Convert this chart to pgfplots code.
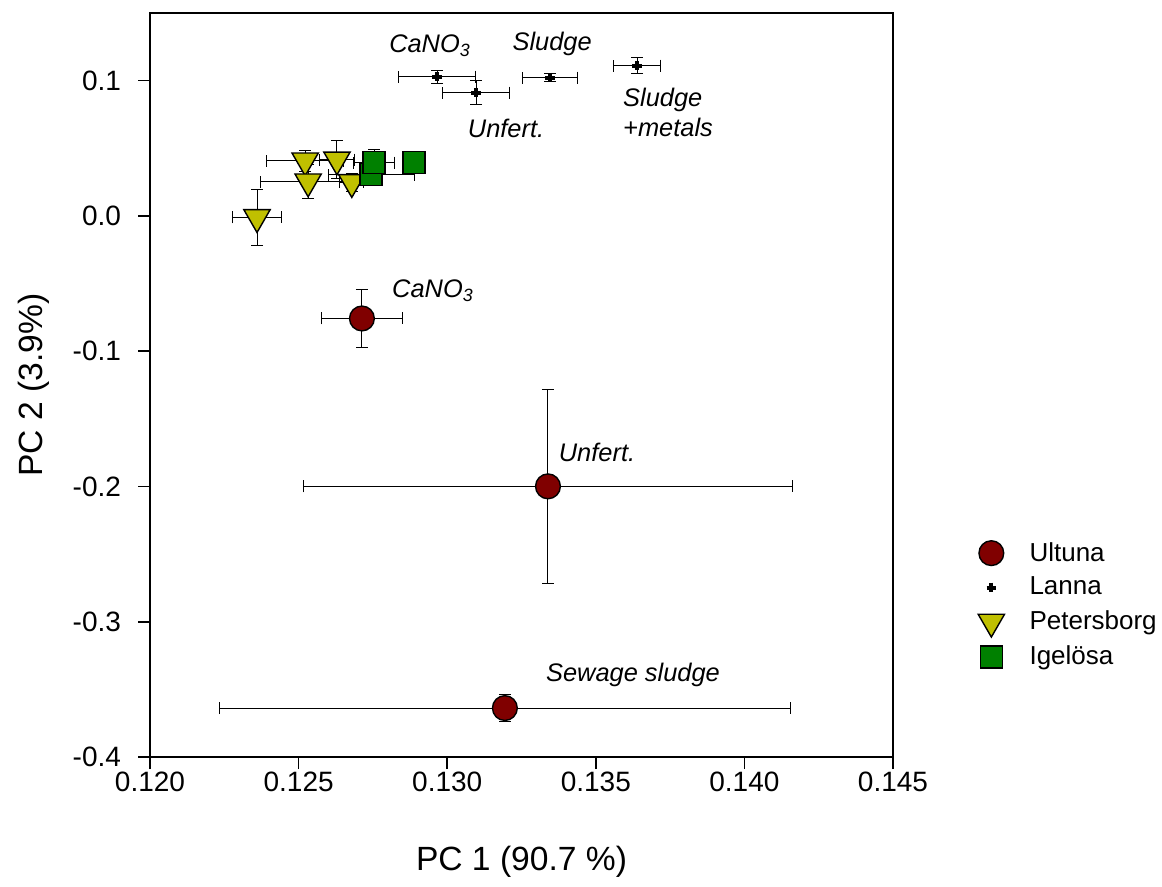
\documentclass[border=0pt]{standalone}
\usepackage{pgfplots}
\pgfplotsset{compat=1.18}
\usepackage{fontspec}
\setmainfont{Liberation Sans}

\definecolor{ultuna}{RGB}{128,0,0}
\definecolor{peters}{RGB}{192,192,0}
\definecolor{igel}{RGB}{0,128,0}

% x y ex ey
\pgfplotstableread{
x y ex ey
0.12713 -0.0758 0.00137 0.0214
0.13339 -0.1999 0.00824 0.0716
0.13194 -0.3638 0.0096 0.0100
}\ultunadata
\pgfplotstableread{
x y ex ey
0.12966 0.1030 0.0013 0.0048
0.13097 0.0911 0.00114 0.0089
0.13346 0.1022 0.00094 0.0030
0.13639 0.1111 0.00079 0.0060
}\lannadata
\pgfplotstableread{
x y ex ey
0.12360 -0.0010 0.00084 0.0207
0.12522 0.0409 0.0013 0.0078
0.12629 0.0416 0.0006 0.0140
0.12532 0.0254 0.0016 0.0125
0.12679 0.0249 0.0004 0.0066
}\petersdata
\pgfplotstableread{
x y ex ey
0.12744 0.0306 0.00145 0.0030
0.12754 0.0394 0.0007 0.0096
0.12888 0.0394 0.0004 0.0070
}\igeldata

\begin{document}
\begin{tikzpicture}
\begin{axis}[
    scale only axis,
    width=371.5pt, height=372pt,
    xmin=0.120, xmax=0.145,
    ymin=-0.4, ymax=0.15,
    xtick={0.120,0.125,0.130,0.135,0.140,0.145},
    ytick={-0.4,-0.3,-0.2,-0.1,0.0,0.1},
    xticklabel style={yshift=2pt,/pgf/number format/.cd,fixed,fixed zerofill,precision=3,assume math mode=true},
    yticklabel style={xshift=-5pt,/pgf/number format/.cd,fixed,fixed zerofill,precision=1,assume math mode=true},
    scaled x ticks=false, scaled y ticks=false,
    tick align=outside, major tick length=6pt,
    xtick pos=bottom, ytick pos=left,
    tick style={black, line width=0.8pt},
    axis line style={line width=0.8pt},
    ticklabel style={font=\fontsize{14}{16}\selectfont},
    xlabel={PC 1 (90.7 \%)}, ylabel={PC 2 (3.9\%)},
    label style={font=\fontsize{16.8}{19}\selectfont},
    xlabel style={yshift=-20pt},
    ylabel style={yshift=5pt},
    clip=false,
    legend style={draw=none, fill=none, at={(1.106,0.30)}, anchor=north west,
        font=\fontsize{13}{15}\selectfont, row sep=2.5pt, column sep=10.5pt,
        cells={anchor=west}},
    legend cell align=left,
    error bars/error bar style={black, line width=0.5pt},
    error bars/error mark options={rotate=90, black, line width=0.5pt, mark size=3pt},
]
\addplot[only marks, mark=*, mark size=6.2pt, mark options={fill=ultuna, draw=black, line width=0.7pt},
    error bars/.cd, x dir=both, y dir=both, x explicit, y explicit]
    table[x=x, y=y, x error=ex, y error=ey] {\ultunadata};
\addlegendentry{Ultuna}
\addplot[only marks, mark=+, mark size=2.4pt, mark options={black, line width=2pt},
    error bars/.cd, x dir=both, y dir=both, x explicit, y explicit]
    table[x=x, y=y, x error=ex, y error=ey] {\lannadata};
\addlegendentry{Lanna}
\addplot[only marks, mark=triangle*, mark size=7.6pt, mark options={rotate=180, fill=peters, draw=black, line width=0.7pt},
    error bars/.cd, x dir=both, y dir=both, x explicit, y explicit]
    table[x=x, y=y, x error=ex, y error=ey] {\petersdata};
\addlegendentry{Petersborg}
\addplot[only marks, mark=square*, mark size=5.5pt, mark options={fill=igel, draw=black, line width=0.7pt},
    error bars/.cd, x dir=both, y dir=both, x explicit, y explicit]
    table[x=x, y=y, x error=ex, y error=ey] {\igeldata};
\addlegendentry{Igelösa}

\begin{scope}[font=\fontsize{12.7}{15}\selectfont\itshape]
\node at (axis cs:0.12942,0.1258) {CaNO\textsubscript{3}};
\node at (axis cs:0.13353,0.1273) {Sludge};
\node at (axis cs:0.13198,0.0646) {Unfert.};
\node[align=left] at (axis cs:0.13743,0.0764) {Sludge\\+metals};
\node at (axis cs:0.12952,-0.0551) {CaNO\textsubscript{3}};
\node at (axis cs:0.13504,-0.1746) {Unfert.};
\node at (axis cs:0.13625,-0.3394) {Sewage sludge};
\end{scope}

\coordinate (bl) at (rel axis cs:-0.2019,-0.1734);
\coordinate (tr) at (rel axis cs:1.3620,1.0175);
\end{axis}
\pgfresetboundingbox
\path[use as bounding box] (bl) rectangle (tr);
\end{tikzpicture}
\end{document}
